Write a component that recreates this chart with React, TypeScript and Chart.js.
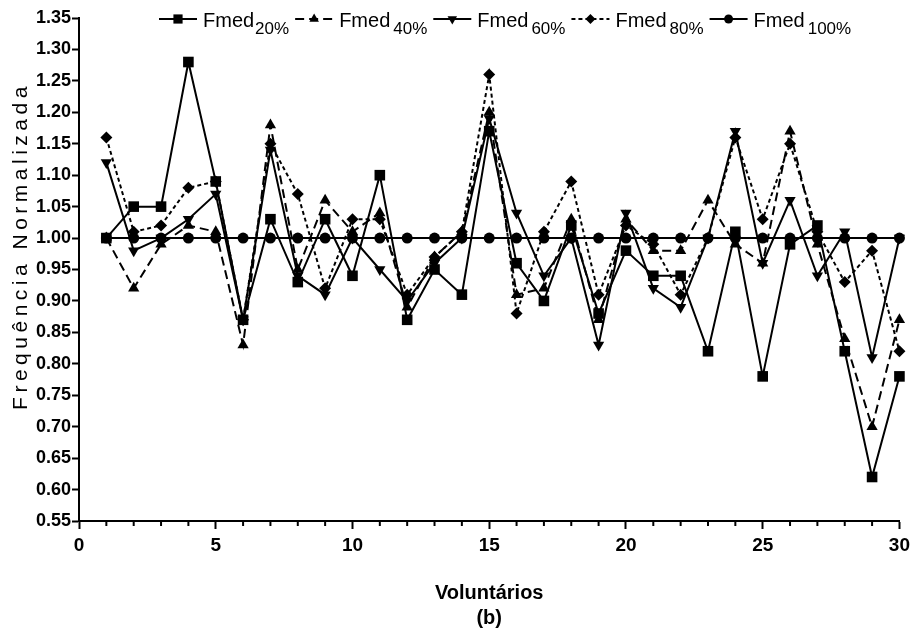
import React, { useEffect, useRef } from 'react';
import { Chart, registerables } from 'chart.js';
import { drawPoint } from 'chart.js/helpers';

Chart.register(...registerables);

// Volunteer index (x axis)
const volunteers = [
  1, 2, 3, 4, 5, 6, 7, 8, 9, 10, 11, 12, 13, 14, 15,
  16, 17, 18, 19, 20, 21, 22, 23, 24, 25, 26, 27, 28, 29, 30,
];

// Normalised median frequency per load level
const fmed20 = [
  1.0, 1.05, 1.05, 1.28, 1.09, 0.87, 1.03, 0.93, 1.03, 0.94, 1.1, 0.87, 0.95, 0.91, 1.17,
  0.96, 0.9, 1.02, 0.88, 0.98, 0.94, 0.94, 0.82, 1.01, 0.78, 0.99, 1.02, 0.82, 0.62, 0.78,
];
const fmed40 = [
  1.0, 0.92, 0.99, 1.02, 1.01, 0.83, 1.18, 0.95, 1.06, 1.01, 1.04, 0.89, 0.97, 1.01, 1.2,
  0.91, 0.92, 1.03, 0.87, 1.03, 0.98, 0.98, 1.06, 0.99, 0.96, 1.17, 0.99, 0.84, 0.7, 0.87,
];
const fmed60 = [
  1.12, 0.98, 1.0, 1.03, 1.07, 0.87, 1.14, 0.94, 0.91, 1.0, 0.95, 0.9, 0.96, 1.0, 1.19,
  1.04, 0.94, 1.0, 0.83, 1.04, 0.92, 0.89, 1.0, 1.17, 0.96, 1.06, 0.94, 1.01, 0.81, 1.0,
];
const fmed80 = [
  1.16, 1.01, 1.02, 1.08, 1.09, 0.87, 1.15, 1.07, 0.92, 1.03, 1.03, 0.91, 0.97, 1.01, 1.26,
  0.88, 1.01, 1.09, 0.91, 1.02, 0.99, 0.91, 1.0, 1.16, 1.03, 1.15, 1.01, 0.93, 0.98, 0.82,
];
const fmed100 = [
  1.0, 1.0, 1.0, 1.0, 1.0, 1.0, 1.0, 1.0, 1.0, 1.0, 1.0, 1.0, 1.0, 1.0, 1.0,
  1.0, 1.0, 1.0, 1.0, 1.0, 1.0, 1.0, 1.0, 1.0, 1.0, 1.0, 1.0, 1.0, 1.0, 1.0,
];

const seriesLabels = ['Fmed20%', 'Fmed 40%', 'Fmed 60%', 'Fmed 80%', 'Fmed 100%'];
const legendMain = 'Fmed';
const legendSubs = ['20%', '40%', '60%', '80%', '100%'];
const xTitle = ['Voluntários', '(b)'];
const yTitle = 'Frequência Normalizada';

const FONT = "'Liberation Sans', Arial, sans-serif";
const NARROW = "'Liberation Sans Narrow', 'Liberation Sans', Arial, sans-serif";

// Line / marker look of each series
const looks = [
  { dash: [] as number[], pointStyle: 'rect', radius: 7.5, rotation: 0 },
  { dash: [9, 5], pointStyle: 'triangle', radius: 6.5, rotation: 0 },
  { dash: [] as number[], pointStyle: 'triangle', radius: 6.5, rotation: 180 },
  { dash: [4, 3], pointStyle: 'rectRot', radius: 6, rotation: 0 },
  { dash: [] as number[], pointStyle: 'circle', radius: 5.5, rotation: 0 },
];

const seriesValues = [fmed20, fmed40, fmed60, fmed80, fmed100];

// Legend with subscripted load level, drawn across the top
const subscriptLegend = {
  id: 'subscriptLegend',
  afterDraw(chart: any) {
    const ctx: CanvasRenderingContext2D = chart.ctx;
    const yLine = 19;
    let x = 159;
    ctx.save();
    looks.forEach((lk, i) => {
      ctx.strokeStyle = '#000';
      ctx.fillStyle = '#000';
      ctx.lineWidth = 2;
      ctx.setLineDash(lk.dash);
      ctx.beginPath();
      ctx.moveTo(x, yLine);
      ctx.lineTo(x + 38, yLine);
      ctx.stroke();
      ctx.setLineDash([]);
      drawPoint(ctx, { pointStyle: lk.pointStyle, radius: lk.radius - 1, rotation: lk.rotation, borderWidth: 0 } as any, x + 19, yLine);
      x += 44;
      ctx.font = `20px ${FONT}`;
      ctx.textBaseline = 'alphabetic';
      ctx.textAlign = 'left';
      ctx.fillText(legendMain, x, 27);
      x += ctx.measureText(legendMain).width + (i === 0 ? 1 : 3);
      ctx.font = `17px ${FONT}`;
      ctx.fillText(legendSubs[i], x, 34);
      x += ctx.measureText(legendSubs[i]).width + 6;
    });
    ctx.restore();
  },
};

// Rotated, letter-spaced y axis title
const yAxisTitle = {
  id: 'yAxisTitle',
  afterDraw(chart: any) {
    const ctx: any = chart.ctx;
    ctx.save();
    ctx.translate(21, 246);
    ctx.rotate(-Math.PI / 2);
    ctx.font = `21px ${FONT}`;
    ctx.letterSpacing = '4.5px';
    ctx.fillStyle = '#000';
    ctx.textAlign = 'center';
    ctx.textBaseline = 'middle';
    ctx.fillText(yTitle, 0, 0);
    ctx.restore();
  },
};

// Short minor ticks at every volunteer along the x axis
const minorTicks = {
  id: 'minorTicks',
  afterDraw(chart: any) {
    const ctx: CanvasRenderingContext2D = chart.ctx;
    const xs = chart.scales.x;
    const bottom = chart.chartArea.bottom;
    ctx.save();
    ctx.strokeStyle = '#000';
    ctx.lineWidth = 2;
    volunteers.forEach((v) => {
      if (v % 5 === 0) return;
      const px = xs.getPixelForValue(v);
      ctx.beginPath();
      ctx.moveTo(px, bottom);
      ctx.lineTo(px, bottom + 5);
      ctx.stroke();
    });
    ctx.restore();
  },
};

export default function App() {
  const canvasRef = useRef<HTMLCanvasElement>(null);

  useEffect(() => {
    const datasets = seriesValues.map((vals, i) => ({
      label: seriesLabels[i],
      data: vals.map((v, j) => ({ x: volunteers[j], y: v })),
      borderColor: '#000',
      backgroundColor: '#000',
      borderWidth: 2,
      borderDash: looks[i].dash,
      pointStyle: looks[i].pointStyle as any,
      pointRadius: looks[i].radius,
      pointRotation: looks[i].rotation,
      pointBorderWidth: 0,
      pointBackgroundColor: '#000',
      tension: 0,
      clip: false as any,
    }));

    const chart = new Chart(canvasRef.current!, {
      type: 'line',
      data: { datasets },
      options: {
        animation: false,
        responsive: true,
        maintainAspectRatio: false,
        layout: { padding: { top: 18, right: 15, left: 0, bottom: 0 } },
        plugins: {
          legend: { display: false },
          tooltip: { enabled: false },
        },
        scales: {
          x: {
            type: 'linear',
            min: 0,
            max: 30,
            afterFit: (s: any) => {
              s.height = 116;
            },
            ticks: {
              stepSize: 5,
              color: '#000',
              padding: 5,
              font: { family: NARROW, size: 19, weight: 'bold' },
              maxRotation: 0,
            },
            grid: {
              drawOnChartArea: false,
              drawTicks: true,
              tickLength: 8,
              tickWidth: 2,
              tickColor: '#000',
            },
            border: { color: '#000', width: 2 },
            title: {
              display: true,
              text: xTitle,
              color: '#000',
              font: { family: NARROW, size: 20, weight: 'bold', lineHeight: 1.25 },
              padding: { top: 0, bottom: 6.5 },
            },
          },
          y: {
            type: 'linear',
            min: 0.55,
            max: 1.35,
            afterFit: (s: any) => {
              s.width = 79;
            },
            ticks: {
              stepSize: 0.05,
              color: '#000',
              padding: 1,
              font: { family: FONT, size: 18, weight: 'bold' },
              callback: (v: any) => Number(v).toFixed(2),
            },
            grid: {
              drawOnChartArea: false,
              drawTicks: true,
              tickLength: 7,
              tickWidth: 2,
              tickColor: '#000',
            },
            border: { color: '#000', width: 2 },
          },
        },
      },
      plugins: [subscriptLegend, yAxisTitle, minorTicks],
    });

    return () => chart.destroy();
  }, []);

  return (
    <div style={{ position: 'fixed', left: 0, top: 0, width: 915, height: 637, background: '#fff' }}>
      <canvas ref={canvasRef} />
    </div>
  );
}
